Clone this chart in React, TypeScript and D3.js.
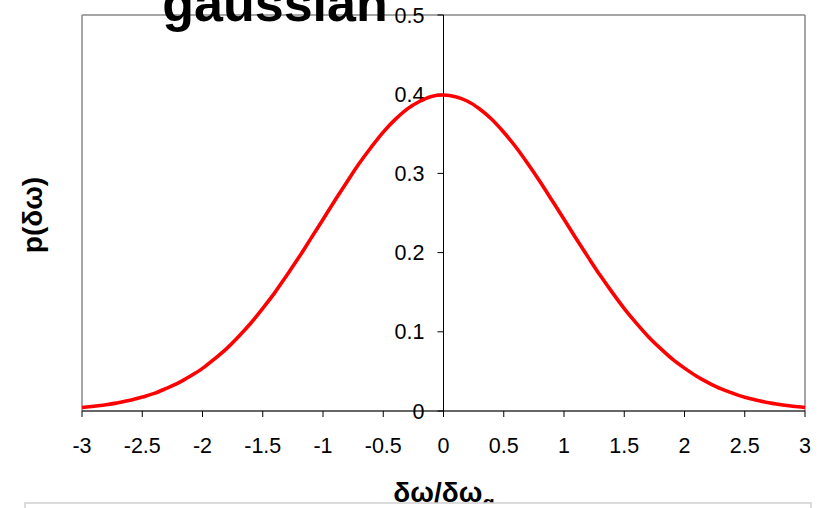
import React from "react";
import * as d3 from "d3";

// Sampled density of the frequency offset, on a 0.1 grid
const xValues: number[] = [
  -3.0, -2.9, -2.8, -2.7, -2.6, -2.5, -2.4, -2.3, -2.2, -2.1,
  -2.0, -1.9, -1.8, -1.7, -1.6, -1.5, -1.4, -1.3, -1.2, -1.1,
  -1.0, -0.9, -0.8, -0.7, -0.6, -0.5, -0.4, -0.3, -0.2, -0.1,
  0.0, 0.1, 0.2, 0.3, 0.4, 0.5, 0.6, 0.7, 0.8, 0.9,
  1.0, 1.1, 1.2, 1.3, 1.4, 1.5, 1.6, 1.7, 1.8, 1.9,
  2.0, 2.1, 2.2, 2.3, 2.4, 2.5, 2.6, 2.7, 2.8, 2.9, 3.0,
];
const pValues: number[] = [
  0.0044, 0.0061, 0.0078, 0.0105, 0.0135, 0.0176, 0.0222, 0.0285, 0.0354, 0.0441,
  0.0538, 0.0658, 0.0788, 0.0941, 0.1108, 0.1296, 0.1495, 0.1715, 0.1940, 0.2180,
  0.2418, 0.2662, 0.2895, 0.3124, 0.3330, 0.3522, 0.3682, 0.3815, 0.3908, 0.3971,
  0.3989, 0.3969, 0.3911, 0.3813, 0.3684, 0.3520, 0.3333, 0.3122, 0.2898, 0.2660,
  0.2421, 0.2178, 0.1943, 0.1713, 0.1498, 0.1294, 0.1110, 0.0939, 0.0791, 0.0655,
  0.0541, 0.0439, 0.0356, 0.0282, 0.0225, 0.0174, 0.0137, 0.0103, 0.0080, 0.0059, 0.0044,
];
const xTicks: number[] = [-3, -2.5, -2, -1.5, -1, -0.5, 0, 0.5, 1, 1.5, 2, 2.5, 3];
const yTicks: number[] = [0, 0.1, 0.2, 0.3, 0.4, 0.5];

const W = 819;
const H = 508;
const left = 82;
const right = 805;
const top = 15;
const bottom = 411;

export default function App() {
  const x = d3.scaleLinear().domain([-3, 3]).range([left, right]);
  const y = d3.scaleLinear().domain([0, 0.5]).range([bottom, top]);
  const pts: [number, number][] = xValues.map((v, i) => [v, pValues[i]]);
  const line = d3
    .line<[number, number]>()
    .x((d) => x(d[0]))
    .y((d) => y(d[1]))
    .curve(d3.curveCatmullRom);

  const font = "Arial, 'Liberation Sans', Helvetica, sans-serif";
  const x0 = x(0);

  return (
    <svg
      width={W}
      height={H}
      style={{ position: "absolute", left: 0, top: 0, background: "#fff" }}
      fontFamily={font}
    >
      {/* plot frame */}
      <line x1={left} x2={right} y1={top} y2={top} stroke="#888" strokeWidth={1.5} />
      <line x1={right} x2={right} y1={top} y2={bottom} stroke="#888" strokeWidth={1.5} />
      <line x1={left} x2={left} y1={top} y2={bottom} stroke="#888" strokeWidth={1.5} />

      {/* x axis along p = 0 */}
      <line x1={left} x2={right} y1={y(0)} y2={y(0)} stroke="#333" strokeWidth={1.5} />
      {xTicks.map((t) => (
        <g key={"xt" + t}>
          <line x1={x(t)} x2={x(t)} y1={y(0)} y2={y(0) + 6} stroke="#000" />
          <text x={x(t)} y={453} fontSize={21.5} textAnchor="middle" fill="#000">
            {String(t)}
          </text>
        </g>
      ))}

      {/* y axis at zero offset */}
      <line x1={x0} x2={x0} y1={top} y2={bottom} stroke="#000" strokeWidth={1} />
      {yTicks.map((t) => (
        <g key={"yt" + t}>
          <line x1={x0 - 6} x2={x0} y1={y(t)} y2={y(t)} stroke="#000" />
          <text x={x0 - 19} y={y(t) + 7.5} fontSize={21.5} textAnchor="end" fill="#000">
            {String(t)}
          </text>
        </g>
      ))}

      {/* density curve */}
      <path d={line(pts) ?? ""} fill="none" stroke="#ff0000" strokeWidth={3.6} strokeLinejoin="round" />

      {/* title */}
      <text x={275} y={21} fontSize={52} fontWeight="bold" textAnchor="middle" fill="#000">
        gaussian
      </text>

      {/* axis titles */}
      <text
        transform={`translate(42, 215) rotate(-90)`}
        fontSize={28}
        fontWeight="bold"
        textAnchor="middle"
        fill="#000"
      >
        p(δω)
      </text>
      <text x={444} y={502} fontSize={28} fontWeight="bold" textAnchor="middle" fill="#000">
        δω/δω<tspan dy={8} fontSize={20}>g</tspan>
      </text>

      {/* panel below */}
      <rect x={25} y={503} width={786} height={20} fill="#fff" stroke="#d0d0d0" strokeWidth={1.5} />
    </svg>
  );
}
